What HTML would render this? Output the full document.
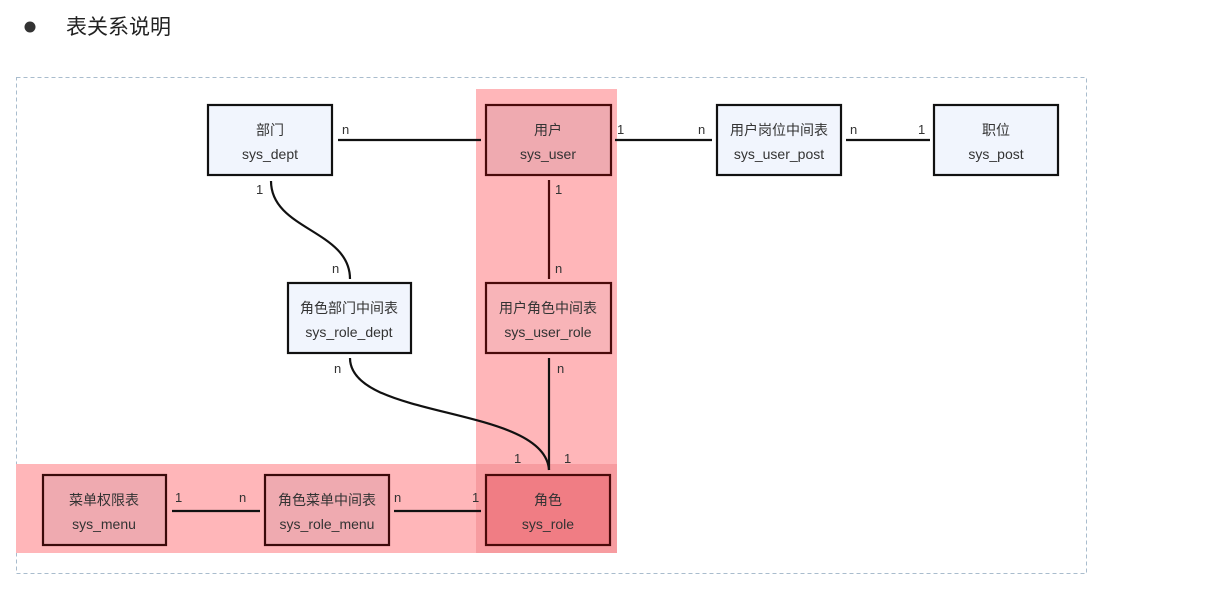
<!DOCTYPE html>
<html><head><meta charset="utf-8"><style>
html,body{margin:0;padding:0;background:#fff;width:1224px;height:595px;overflow:hidden}
svg text{font-family:"Liberation Sans","Noto Sans CJK SC",sans-serif;fill:#333}
</style></head><body>
<svg width="1224" height="595" viewBox="0 0 1224 595" xmlns="http://www.w3.org/2000/svg">
<circle cx="30" cy="27" r="5.5" fill="#333"/>
<text x="66" y="34" font-size="21" style="fill:#222">表关系说明</text>
<rect x="16.5" y="77.5" width="1070" height="496" fill="none" stroke="#a9bccd" stroke-dasharray="4,3"/>
<!-- highlights -->
<rect x="476" y="89" width="141" height="464" fill="#ffb6b9"/>
<rect x="16" y="464" width="460" height="89" fill="#ffb6b9"/>
<rect x="476" y="464" width="141" height="89" fill="#f79ca0"/>
<!-- connectors -->
<g fill="none" stroke="#111" stroke-width="2.2">
<line x1="338" y1="140" x2="481" y2="140"/>
<line x1="615" y1="140" x2="712" y2="140"/>
<line x1="846" y1="140" x2="930" y2="140"/>
<line x1="549" y1="180" x2="549" y2="279" stroke="#4a0a0a"/>
<line x1="549" y1="358" x2="549" y2="470"/>
<path d="M271,181 C271,230 350,230 350,279"/>
<path d="M350,358 C350,420 545,405 549,470"/>
<line x1="172" y1="511" x2="260" y2="511"/>
<line x1="394" y1="511" x2="481" y2="511"/>
</g>
<!-- labels -->
<g font-size="13">
<text x="342" y="134">n</text>
<text x="617" y="134">1</text>
<text x="698" y="134">n</text>
<text x="850" y="134">n</text>
<text x="918" y="134">1</text>
<text x="256" y="194">1</text>
<text x="555" y="194">1</text>
<text x="332" y="273">n</text>
<text x="555" y="273">n</text>
<text x="334" y="373">n</text>
<text x="557" y="373">n</text>
<text x="514" y="463">1</text>
<text x="564" y="463">1</text>
<text x="175" y="502">1</text>
<text x="239" y="502">n</text>
<text x="394" y="502">n</text>
<text x="472" y="502">1</text>
</g>
<!-- boxes -->
<g stroke-width="2.2" font-size="14" text-anchor="middle">
<rect x="208" y="105" width="124" height="70" fill="#f1f5fd" stroke="#111"/>
<text x="270" y="135">部门</text><text x="270" y="159">sys_dept</text>
<rect x="486" y="105" width="125" height="70" fill="#efaab0" stroke="#4a0a0a"/>
<text x="548" y="135">用户</text><text x="548" y="159">sys_user</text>
<rect x="717" y="105" width="124" height="70" fill="#f1f5fd" stroke="#111"/>
<text x="779" y="135">用户岗位中间表</text><text x="779" y="159">sys_user_post</text>
<rect x="934" y="105" width="124" height="70" fill="#f1f5fd" stroke="#111"/>
<text x="996" y="135">职位</text><text x="996" y="159">sys_post</text>
<rect x="288" y="283" width="123" height="70" fill="#f1f5fd" stroke="#111"/>
<text x="349" y="313">角色部门中间表</text><text x="349" y="337">sys_role_dept</text>
<rect x="486" y="283" width="125" height="70" fill="#f8b4b8" stroke="#4a0a0a"/>
<text x="548" y="313">用户角色中间表</text><text x="548" y="337">sys_user_role</text>
<rect x="43" y="475" width="123" height="70" fill="#efaab0" stroke="#3a0a0a"/>
<text x="104" y="505">菜单权限表</text><text x="104" y="529">sys_menu</text>
<rect x="265" y="475" width="124" height="70" fill="#efaab0" stroke="#3a0a0a"/>
<text x="327" y="505">角色菜单中间表</text><text x="327" y="529">sys_role_menu</text>
<rect x="486" y="475" width="124" height="70" fill="#f07d84" stroke="#4a0a0a"/>
<text x="548" y="505">角色</text><text x="548" y="529">sys_role</text>
</g>
</svg>
</body></html>
